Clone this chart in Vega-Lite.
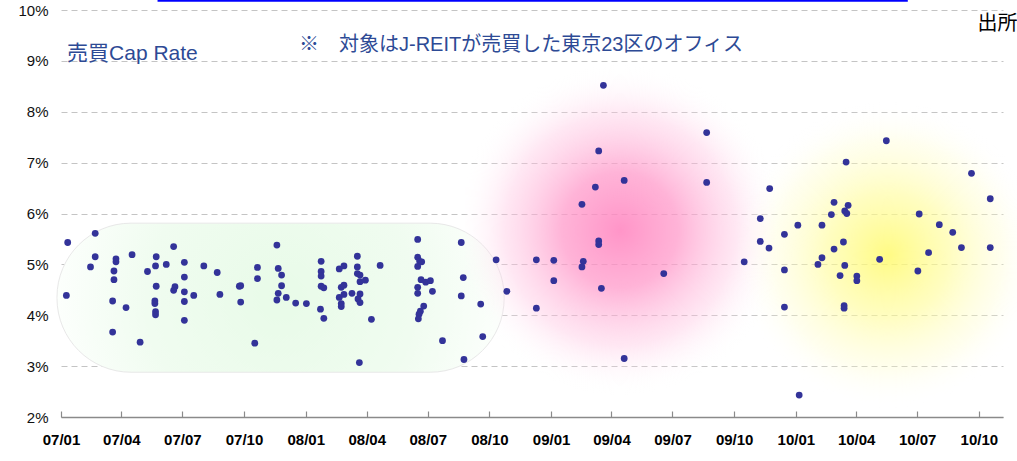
{
  "$schema": "https://vega.github.io/schema/vega-lite/v6.json",
  "autosize": "none",
  "width": 942,
  "height": 407,
  "padding": {"left": 61, "top": 10, "right": 14, "bottom": 44},
  "background": "#ffffff",
  "view": {"stroke": null},
  "config": {"font": "Liberation Sans"},
  "layer": [
    {
      "data": {"values": [{}]},
      "mark": {
        "type": "rect",
        "cornerRadius": 74,
        "stroke": "#e8e8e8",
        "strokeWidth": 1,
        "fill": {
          "gradient": "radial",
          "x1": 0.5, "y1": 0.5, "r1": 0,
          "x2": 0.5, "y2": 0.5, "r2": 0.5,
          "stops": [
            {"offset": 0, "color": "#e8fbe8"},
            {"offset": 0.6, "color": "#f0fcf0"},
            {"offset": 1, "color": "#fcfffc"}
          ]
        }
      },
      "encoding": {
        "x": {"datum": {"year": 2006, "month": 12, "date": 26}, "type": "temporal"},
        "x2": {"datum": {"year": 2008, "month": 10, "date": 23}},
        "y": {"datum": 5.81, "type": "quantitative"},
        "y2": {"datum": 2.88}
      }
    },
    {
      "data": {"values": [{}]},
      "mark": {
        "type": "rect",
        "fill": {
          "gradient": "radial",
          "x1": 0.5, "y1": 0.5, "r1": 0,
          "x2": 0.5, "y2": 0.5, "r2": 0.5,
          "stops": [
            {"offset": 0, "color": "rgba(255,130,190,0.85)"},
            {"offset": 0.35, "color": "rgba(255,150,200,0.72)"},
            {"offset": 0.7, "color": "rgba(255,195,225,0.4)"},
            {"offset": 1, "color": "rgba(255,255,255,0)"}
          ]
        }
      },
      "encoding": {
        "x": {"datum": {"year": 2008, "month": 8, "date": 26}, "type": "temporal"},
        "x2": {"datum": {"year": 2009, "month": 12, "date": 1}},
        "y": {"datum": 8.92, "type": "quantitative"},
        "y2": {"datum": 2.43}
      }
    },
    {
      "data": {"values": [{}]},
      "mark": {
        "type": "rect",
        "fill": {
          "gradient": "radial",
          "x1": 0.5, "y1": 0.5, "r1": 0,
          "x2": 0.5, "y2": 0.5, "r2": 0.5,
          "stops": [
            {"offset": 0, "color": "rgba(255,250,110,0.85)"},
            {"offset": 0.4, "color": "rgba(255,252,150,0.6)"},
            {"offset": 0.75, "color": "rgba(255,253,200,0.3)"},
            {"offset": 1, "color": "rgba(255,255,255,0)"}
          ]
        }
      },
      "encoding": {
        "x": {"datum": {"year": 2009, "month": 10, "date": 2}, "type": "temporal"},
        "x2": {"datum": {"year": 2011, "month": 1, "date": 2}},
        "y": {"datum": 8.19, "type": "quantitative"},
        "y2": {"datum": 2.17}
      }
    },
    {
      "data": {
        "values": [
          {"date": "2007-01-09", "cap_rate": 4.39},
          {"date": "2007-01-11", "cap_rate": 5.43},
          {"date": "2007-02-21", "cap_rate": 5.61},
          {"date": "2007-02-21", "cap_rate": 5.15},
          {"date": "2007-02-14", "cap_rate": 4.95},
          {"date": "2007-03-24", "cap_rate": 5.11},
          {"date": "2007-03-24", "cap_rate": 5.05},
          {"date": "2007-03-21", "cap_rate": 4.87},
          {"date": "2007-03-21", "cap_rate": 4.70},
          {"date": "2007-03-19", "cap_rate": 4.28},
          {"date": "2007-03-19", "cap_rate": 3.67},
          {"date": "2007-04-08", "cap_rate": 4.15},
          {"date": "2007-04-17", "cap_rate": 5.19},
          {"date": "2007-04-29", "cap_rate": 3.47},
          {"date": "2007-05-10", "cap_rate": 4.86},
          {"date": "2007-05-23", "cap_rate": 5.15},
          {"date": "2007-05-22", "cap_rate": 4.97},
          {"date": "2007-05-23", "cap_rate": 4.57},
          {"date": "2007-05-21", "cap_rate": 4.28},
          {"date": "2007-05-21", "cap_rate": 4.23},
          {"date": "2007-05-22", "cap_rate": 4.07},
          {"date": "2007-05-22", "cap_rate": 4.01},
          {"date": "2007-06-07", "cap_rate": 5.00},
          {"date": "2007-06-18", "cap_rate": 5.35},
          {"date": "2007-06-20", "cap_rate": 4.56},
          {"date": "2007-06-18", "cap_rate": 4.49},
          {"date": "2007-07-04", "cap_rate": 5.04},
          {"date": "2007-07-04", "cap_rate": 4.75},
          {"date": "2007-07-04", "cap_rate": 4.46},
          {"date": "2007-07-04", "cap_rate": 4.27},
          {"date": "2007-07-04", "cap_rate": 3.90},
          {"date": "2007-07-18", "cap_rate": 4.39},
          {"date": "2007-08-02", "cap_rate": 4.97},
          {"date": "2007-08-22", "cap_rate": 4.84},
          {"date": "2007-08-26", "cap_rate": 4.41},
          {"date": "2007-09-24", "cap_rate": 4.57},
          {"date": "2007-09-26", "cap_rate": 4.58},
          {"date": "2007-09-26", "cap_rate": 4.26},
          {"date": "2007-10-17", "cap_rate": 3.45},
          {"date": "2007-10-21", "cap_rate": 4.94},
          {"date": "2007-10-21", "cap_rate": 4.72},
          {"date": "2007-11-19", "cap_rate": 5.38},
          {"date": "2007-11-21", "cap_rate": 4.92},
          {"date": "2007-11-26", "cap_rate": 4.79},
          {"date": "2007-11-26", "cap_rate": 4.58},
          {"date": "2007-11-21", "cap_rate": 4.43},
          {"date": "2007-11-19", "cap_rate": 4.30},
          {"date": "2007-12-03", "cap_rate": 4.35},
          {"date": "2007-12-17", "cap_rate": 4.24},
          {"date": "2008-01-02", "cap_rate": 4.23},
          {"date": "2008-01-24", "cap_rate": 5.06},
          {"date": "2008-01-24", "cap_rate": 4.86},
          {"date": "2008-01-24", "cap_rate": 4.77},
          {"date": "2008-01-24", "cap_rate": 4.57},
          {"date": "2008-01-28", "cap_rate": 4.54},
          {"date": "2008-01-23", "cap_rate": 4.12},
          {"date": "2008-01-28", "cap_rate": 3.94},
          {"date": "2008-02-20", "cap_rate": 4.91},
          {"date": "2008-02-27", "cap_rate": 4.97},
          {"date": "2008-02-23", "cap_rate": 4.55},
          {"date": "2008-02-27", "cap_rate": 4.59},
          {"date": "2008-02-20", "cap_rate": 4.35},
          {"date": "2008-02-23", "cap_rate": 4.23},
          {"date": "2008-02-23", "cap_rate": 4.17},
          {"date": "2008-02-27", "cap_rate": 4.41},
          {"date": "2008-03-10", "cap_rate": 4.43},
          {"date": "2008-03-18", "cap_rate": 5.16},
          {"date": "2008-03-18", "cap_rate": 4.95},
          {"date": "2008-03-18", "cap_rate": 4.82},
          {"date": "2008-03-22", "cap_rate": 4.79},
          {"date": "2008-03-22", "cap_rate": 4.66},
          {"date": "2008-03-30", "cap_rate": 4.69},
          {"date": "2008-03-22", "cap_rate": 4.42},
          {"date": "2008-03-19", "cap_rate": 4.32},
          {"date": "2008-03-22", "cap_rate": 4.25},
          {"date": "2008-03-21", "cap_rate": 3.07},
          {"date": "2008-04-08", "cap_rate": 3.92},
          {"date": "2008-04-21", "cap_rate": 4.98},
          {"date": "2008-06-16", "cap_rate": 5.49},
          {"date": "2008-06-16", "cap_rate": 5.14},
          {"date": "2008-06-19", "cap_rate": 5.06},
          {"date": "2008-06-16", "cap_rate": 4.96},
          {"date": "2008-06-22", "cap_rate": 5.05},
          {"date": "2008-06-16", "cap_rate": 4.55},
          {"date": "2008-06-16", "cap_rate": 4.43},
          {"date": "2008-06-21", "cap_rate": 4.70},
          {"date": "2008-06-28", "cap_rate": 4.65},
          {"date": "2008-07-05", "cap_rate": 4.68},
          {"date": "2008-07-08", "cap_rate": 4.47},
          {"date": "2008-06-25", "cap_rate": 4.18},
          {"date": "2008-06-20", "cap_rate": 4.08},
          {"date": "2008-06-18", "cap_rate": 4.02},
          {"date": "2008-06-17", "cap_rate": 3.93},
          {"date": "2008-07-23", "cap_rate": 3.50},
          {"date": "2008-08-20", "cap_rate": 5.43},
          {"date": "2008-08-23", "cap_rate": 4.74},
          {"date": "2008-08-20", "cap_rate": 4.38},
          {"date": "2008-08-24", "cap_rate": 3.13},
          {"date": "2008-09-18", "cap_rate": 4.22},
          {"date": "2008-09-21", "cap_rate": 3.58},
          {"date": "2008-10-11", "cap_rate": 5.09},
          {"date": "2008-10-27", "cap_rate": 4.47},
          {"date": "2008-12-10", "cap_rate": 5.09},
          {"date": "2008-12-10", "cap_rate": 4.14},
          {"date": "2009-01-05", "cap_rate": 5.08},
          {"date": "2009-01-05", "cap_rate": 4.68},
          {"date": "2009-02-16", "cap_rate": 6.18},
          {"date": "2009-02-18", "cap_rate": 5.06},
          {"date": "2009-02-16", "cap_rate": 4.95},
          {"date": "2009-03-08", "cap_rate": 6.52},
          {"date": "2009-03-13", "cap_rate": 7.23},
          {"date": "2009-03-13", "cap_rate": 5.46},
          {"date": "2009-03-13", "cap_rate": 5.39},
          {"date": "2009-03-17", "cap_rate": 4.53},
          {"date": "2009-03-20", "cap_rate": 8.52},
          {"date": "2009-04-20", "cap_rate": 6.65},
          {"date": "2009-04-20", "cap_rate": 3.15},
          {"date": "2009-06-18", "cap_rate": 4.82},
          {"date": "2009-08-21", "cap_rate": 7.59},
          {"date": "2009-08-21", "cap_rate": 6.61},
          {"date": "2009-10-16", "cap_rate": 5.05},
          {"date": "2009-11-09", "cap_rate": 5.90},
          {"date": "2009-11-09", "cap_rate": 5.45},
          {"date": "2009-11-23", "cap_rate": 6.49},
          {"date": "2009-11-22", "cap_rate": 5.32},
          {"date": "2009-12-15", "cap_rate": 5.59},
          {"date": "2009-12-15", "cap_rate": 4.89},
          {"date": "2009-12-15", "cap_rate": 4.16},
          {"date": "2010-01-04", "cap_rate": 5.77},
          {"date": "2010-01-06", "cap_rate": 2.43},
          {"date": "2010-02-03", "cap_rate": 5.00},
          {"date": "2010-02-09", "cap_rate": 5.13},
          {"date": "2010-02-09", "cap_rate": 5.77},
          {"date": "2010-02-23", "cap_rate": 5.98},
          {"date": "2010-02-27", "cap_rate": 6.22},
          {"date": "2010-02-27", "cap_rate": 5.30},
          {"date": "2010-03-08", "cap_rate": 4.78},
          {"date": "2010-03-13", "cap_rate": 5.44},
          {"date": "2010-03-14", "cap_rate": 4.19},
          {"date": "2010-03-14", "cap_rate": 4.14},
          {"date": "2010-03-15", "cap_rate": 4.98},
          {"date": "2010-03-15", "cap_rate": 6.05},
          {"date": "2010-03-18", "cap_rate": 6.00},
          {"date": "2010-03-20", "cap_rate": 6.16},
          {"date": "2010-03-17", "cap_rate": 7.01},
          {"date": "2010-04-02", "cap_rate": 4.77},
          {"date": "2010-04-02", "cap_rate": 4.68},
          {"date": "2010-05-06", "cap_rate": 5.10},
          {"date": "2010-05-16", "cap_rate": 7.43},
          {"date": "2010-07-02", "cap_rate": 4.87},
          {"date": "2010-07-04", "cap_rate": 5.99},
          {"date": "2010-07-18", "cap_rate": 5.23},
          {"date": "2010-08-03", "cap_rate": 5.78},
          {"date": "2010-08-23", "cap_rate": 5.63},
          {"date": "2010-09-05", "cap_rate": 5.33},
          {"date": "2010-09-20", "cap_rate": 6.79},
          {"date": "2010-10-18", "cap_rate": 6.29},
          {"date": "2010-10-18", "cap_rate": 5.33}
        ]
      },
      "mark": {"type": "circle", "size": 46, "color": "#333399", "opacity": 1},
      "encoding": {
        "x": {
          "field": "date",
          "type": "temporal",
          "scale": {
            "domain": [
              {"year": 2007, "month": 1, "date": 1},
              {"year": 2010, "month": 11, "date": 6}
            ],
            "nice": false
          },
          "axis": {
            "title": null,
            "format": "%y/%m",
            "tickCount": {"interval": "month", "step": 3},
            "grid": false,
            "labelFlush": false,
            "labelOverlap": false,
            "labelBound": false,
            "labelFont": "Liberation Sans",
            "labelFontWeight": "bold",
            "labelFontSize": 15,
            "labelColor": "#000000",
            "labelPadding": 21,
            "domainColor": "#8a8a8a",
            "domainWidth": 1.5,
            "tickColor": "#8a8a8a",
            "tickWidth": 1.2,
            "tickSize": -6
          }
        },
        "y": {
          "field": "cap_rate",
          "type": "quantitative",
          "scale": {"domain": [2, 10], "nice": false, "zero": false},
          "axis": {
            "title": null,
            "values": [2, 3, 4, 5, 6, 7, 8, 9, 10],
            "labelExpr": "datum.value + '%'",
            "grid": true,
            "gridColor": "#c4c4c4",
            "gridDash": [6, 4],
            "gridWidth": 1,
            "domain": false,
            "ticks": false,
            "labelFont": "Liberation Sans",
            "labelFontSize": 15,
            "labelColor": "#111111",
            "labelPadding": 13
          }
        }
      }
    },
    {
      "data": {"values": [{}]},
      "mark": {
        "type": "text",
        "text": "売買Cap Rate",
        "align": "left",
        "baseline": "alphabetic",
        "font": "Liberation Sans, Noto Sans CJK JP",
        "fontSize": 21,
        "color": "#2d4a95"
      },
      "encoding": {
        "x": {"datum": {"year": 2007, "month": 1, "date": 10}, "type": "temporal"},
        "y": {"datum": 9.02, "type": "quantitative"}
      }
    },
    {
      "data": {"values": [{}]},
      "mark": {
        "type": "text",
        "text": "※　対象はJ-REITが売買した東京23区のオフィス",
        "align": "left",
        "baseline": "alphabetic",
        "font": "Liberation Sans, Noto Sans CJK JP",
        "fontSize": 20,
        "color": "#2d4a95"
      },
      "encoding": {
        "x": {"datum": {"year": 2007, "month": 12, "date": 22}, "type": "temporal"},
        "y": {"datum": 9.2, "type": "quantitative"}
      }
    },
    {
      "data": {"values": [{}]},
      "mark": {
        "type": "text",
        "text": "出所",
        "align": "left",
        "baseline": "alphabetic",
        "font": "Noto Sans CJK JP",
        "fontSize": 20,
        "color": "#000000"
      },
      "encoding": {
        "x": {"datum": {"year": 2010, "month": 9, "date": 29}, "type": "temporal"},
        "y": {"datum": 9.6, "type": "quantitative"}
      }
    },
    {
      "data": {"values": [{}]},
      "mark": {"type": "rule", "color": "#0000ff", "strokeWidth": 2},
      "encoding": {
        "x": {"datum": {"year": 2007, "month": 5, "date": 25}, "type": "temporal"},
        "x2": {"datum": {"year": 2010, "month": 6, "date": 17}},
        "y": {"datum": 10.18, "type": "quantitative"}
      }
    }
  ]
}
